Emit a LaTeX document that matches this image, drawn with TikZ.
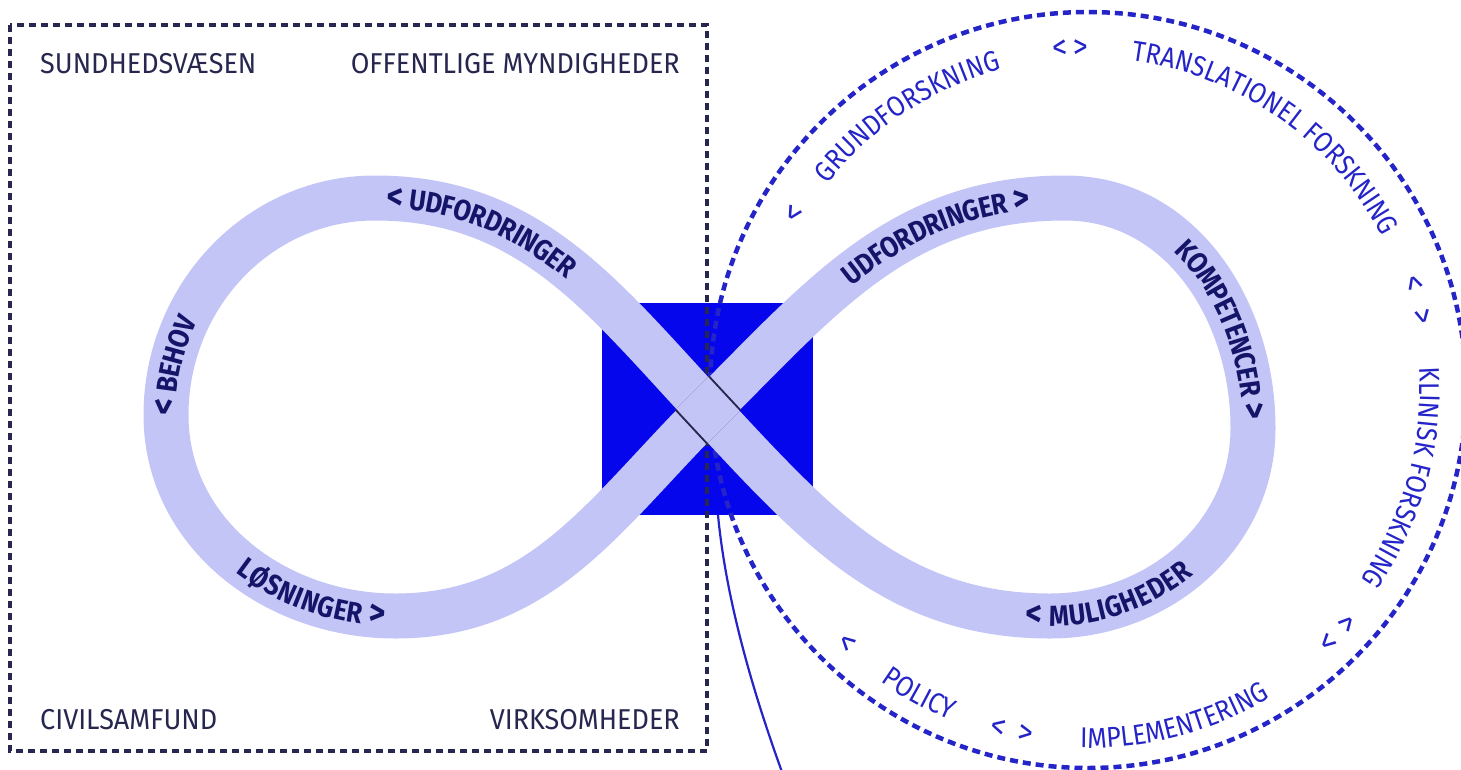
\documentclass[tikz,border=0pt]{standalone}
\usepackage{fontspec}
\setmainfont{Fira Sans}
\newfontfamily\narrowfam{Fira Sans}[FakeStretch=0.88]
\newfontfamily\cornerfam{Fira Sans}[FakeStretch=0.94]
\usetikzlibrary{decorations.text}
\definecolor{bandfill}{RGB}{195,197,247}
\definecolor{corefill}{RGB}{6,6,236}
\definecolor{framenavy}{RGB}{38,38,78}
\definecolor{textnavy}{RGB}{20,20,105}
\definecolor{ringblue}{RGB}{36,36,200}
\newcommand{\bandfont}{\color{textnavy}\narrowfam\bfseries\fontsize{29}{29}\selectfont}
\newcommand{\bandchev}{\color{textnavy}\narrowfam\bfseries\fontsize{36}{36}\selectfont}
\newcommand{\ringfont}{\color{ringblue}\narrowfam\fontsize{28.5}{28.5}\selectfont}
\newcommand{\ringchev}{\color{ringblue}\narrowfam\fontsize{34}{34}\selectfont}
\begin{document}
\begin{tikzpicture}[x=1pt,y=1pt,
  frameline/.style={framenavy,line width=3.5pt,dash pattern=on 7pt off 5pt},
  ringline/.style={ringblue,line width=4.5pt,dash pattern=on 8pt off 5pt},
  bandline/.style={bandfill,line width=45pt},
  cornerlabel/.style={inner sep=0pt,text=framenavy,font=\cornerfam\fontsize{28.7}{28.7}\selectfont},
  bandtext/.style={decorate,decoration={text along path,raise=-10pt,text align={left indent=#1}}},
  ringtext/.style={decorate,decoration={text along path,text align=center}}]
\useasboundingbox (0,0) rectangle (1461,-769);
\coordinate (C) at (708,-410);
\coordinate (TL) at (375,-198);
\coordinate (L) at (166,-415);
\coordinate (BL) at (395,-616);
\coordinate (TR) at (1065,-198);
\coordinate (R) at (1253,-428);
\coordinate (BR) at (1050,-616);
\coordinate (O) at (1088,-390);
\node [fill=corefill,minimum width=211pt,minimum height=212pt,inner sep=0pt] (core) at (707.5,-409) {};
\coordinate (tail) at (718,-515);
\coordinate (tailend) at (782,-772);
\draw [frameline] (10,-25) rectangle (707,-751);
\draw [ringline] (O) circle [radius=378];
\draw [ringblue,line width=2.2pt] (tail) .. controls (726,-599) and (752,-689) .. (tailend);
\draw [bandline] (C) to[out=133,in=0] (TL) to[out=180,in=90] (L) to[out=-90,in=180] (BL)
  to[out=0,in=225] (C) to[out=45,in=180] (TR) to[out=0,in=90] (R) to[out=-90,in=0] (BR)
  to[out=180,in=-47] (C);
\begin{scope}
\clip (C) ++(45:70) ++(135:23) -- ++(225:140) -- ++(-45:46) -- ++(45:140) -- cycle;
\draw [framenavy,line width=49pt] (TL) to[out=0,in=133] (C) to[out=-47,in=180] (BR);
\draw [bandline] (TL) to[out=0,in=133] (C) to[out=-47,in=180] (BR);
\end{scope}
\path [bandtext=12pt,decoration={text={|\bandchev|<|\bandfont| UDFORDRINGER}}] (TL) to[out=0,in=133] (C);
\path [bandtext=0pt,decoration={text={|\bandchev|<|\bandfont| BEHOV}}] (L) to[out=90,in=180] (TL);
\path [bandtext=174pt,decoration={text={|\bandfont|LØSNINGER |\bandchev|>}}] (L) to[out=-90,in=180] (BL) to[out=0,in=225] (C);
\path [bandtext=190pt,decoration={text={|\bandfont|UDFORDRINGER |\bandchev|>}}] (C) to[out=45,in=180] (TR) to[out=0,in=90] (R);
\path [bandtext=128pt,decoration={text={|\bandfont|KOMPETENCER |\bandchev|>}}] (TR) to[out=0,in=90] (R);
\path [bandtext=390pt,decoration={text={|\bandchev|<|\bandfont| MULIGHEDER}}] (C) to[out=-47,in=180] (BR) to[out=0,in=-90] (R);
\path [ringtext,decoration={text={|\ringchev|<}}] (O) ++(155:332) arc [start angle=155,end angle=143,radius=332];
\path [ringtext,decoration={text={|\ringfont|GRUNDFORSKNING}}] (O) ++(150:332) arc [start angle=150,end angle=96.8,radius=332];
\path [ringtext,decoration={text={|\ringchev|<}}] (O) ++(100:332) arc [start angle=100,end angle=89.4,radius=332];
\path [ringtext,decoration={text={|\ringchev|>}}] (O) ++(96:332) arc [start angle=96,end angle=86.6,radius=332];
\path [ringtext,decoration={text={|\ringfont|TRANSLATIONEL FORSKNING}}] (O) ++(95:332) arc [start angle=95,end angle=15,radius=332];
\path [ringtext,decoration={text={|\ringchev|<}}] (O) ++(24:332) arc [start angle=24,end angle=12.4,radius=332];
\path [ringtext,decoration={text={|\ringchev|>}}] (O) ++(18:332) arc [start angle=18,end angle=6.6,radius=332];
\path [ringtext,decoration={text={|\ringfont|KLINISK FORSKNING}}] (O) ++(10:332) arc [start angle=10,end angle=-41,radius=332];
\path [ringtext,decoration={text={|\ringchev|<}}] (O) ++(220:360) arc [start angle=220,end angle=233,radius=360];
\path [ringtext,decoration={text={|\ringfont|POLICY}}] (O) ++(228:358) arc [start angle=228,end angle=254,radius=358];
\path [ringtext,decoration={text={|\ringchev|<}}] (O) ++(250:360) arc [start angle=250,end angle=260.2,radius=360];
\path [ringtext,decoration={text={|\ringchev|>}}] (O) ++(254.6:360) arc [start angle=254.6,end angle=264.8,radius=360];
\path [ringtext,decoration={text={|\ringfont|IMPLEMENTERING}}] (O) ++(260:358) arc [start angle=260,end angle=309.4,radius=358];
\path [ringtext,decoration={text={|\ringchev|<}}] (O) ++(308:360) arc [start angle=308,end angle=319.2,radius=360];
\path [ringtext,decoration={text={|\ringchev|>}}] (O) ++(312.4:360) arc [start angle=312.4,end angle=323.6,radius=360];
\node [cornerlabel,anchor=base west] (sundhed) at (40,-73) {SUNDHEDSVÆSEN};
\node [cornerlabel,anchor=base east] (offentlig) at (680,-73) {OFFENTLIGE MYNDIGHEDER};
\node [cornerlabel,anchor=base west] (civil) at (40,-729) {CIVILSAMFUND};
\node [cornerlabel,anchor=base east] (virksom) at (680,-729) {VIRKSOMHEDER};
\end{tikzpicture}
\end{document}
